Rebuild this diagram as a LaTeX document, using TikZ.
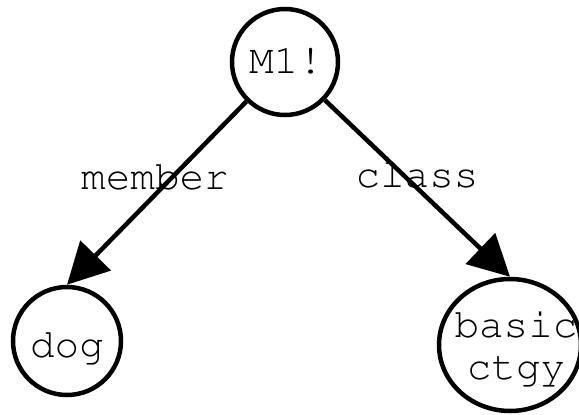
\documentclass[tikz,border=0pt]{standalone}
\usepackage[T1]{fontenc}
\usetikzlibrary{arrows.meta,shapes.geometric}
\tikzset{
  courier/.style={font=\fontfamily{pcr}\fontsize{41}{42}\selectfont},
  vertex/.style={circle, draw, line width=4.5pt, inner sep=0pt},
  wide vertex/.style={ellipse, draw, line width=4.5pt, inner sep=0pt},
  vtext/.style={courier, anchor=base, inner sep=0pt, align=center},
  arc/.style={line width=4.5pt, -{Triangle[length=41pt,width=42pt]}},
  arclabel/.style={courier, anchor=base, inner sep=0pt}
}
\begin{document}
\begin{tikzpicture}[x=1pt, y=-1pt]
  \useasboundingbox (0,0) rectangle (579,415);
  % outlines of the network's nodes
  \node[vertex, minimum size=106pt] (m1) at (285,62) {};
  \node[vertex, minimum size=108pt] (dog) at (67,341) {};
  \node[wide vertex, minimum width=142pt, minimum height=132pt] (ctgy) at (510,345) {};
  % their names
  \node[vtext] (m1text) at (286,73) {M1!};
  \node[vtext] (dogtext) at (67,357) {dog};
  \node[vtext] (ctgytext) at (516,379) {basic\\ctgy};
  % labelled arcs
  \draw[arc] (m1) -- (dog.north);
  \draw[arc] (m1) -- (ctgy.north);
  \node[arclabel] (lmember) at (155,189) {member};
  \node[arclabel] (lclass) at (417,187) {class};
\end{tikzpicture}
\end{document}
